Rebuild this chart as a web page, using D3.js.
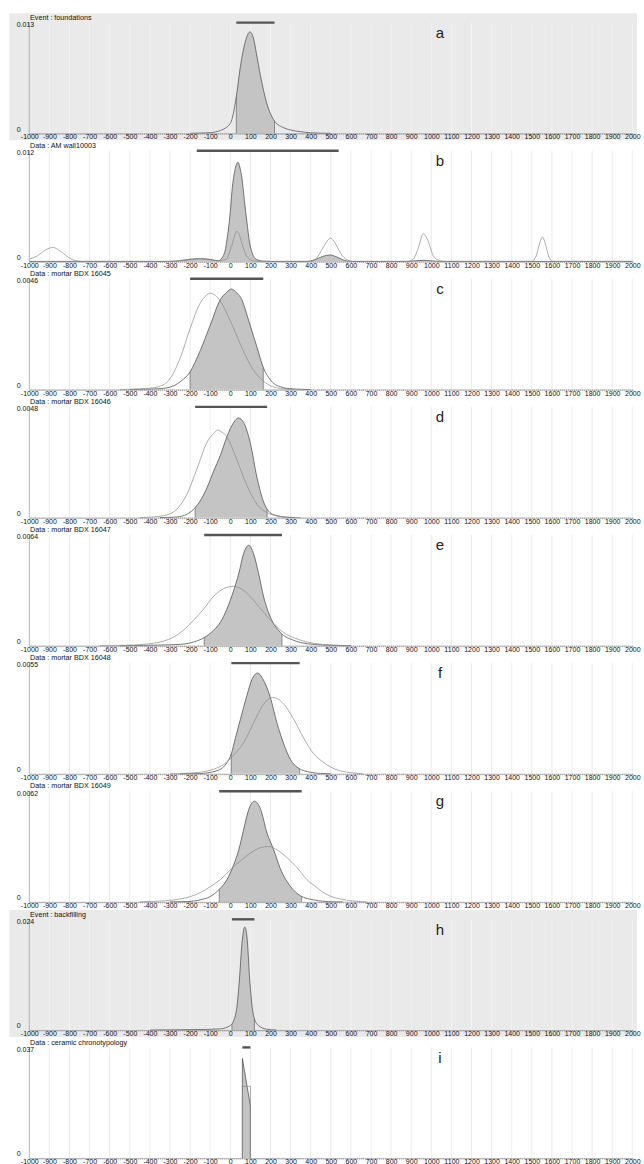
<!DOCTYPE html>
<html>
<head>
<meta charset="utf-8">
<script src="https://cdn.jsdelivr.net/npm/d3@7"></script>
<style>
body { margin: 0; background: #fff; }
svg text { font-family: "Liberation Sans", Arial, sans-serif; }
</style>
</head>
<body>
<svg id="chart" width="644" height="1164"></svg>
<script>
// panels, top to bottom
const panelLetters = ["a", "b", "c", "d", "e", "f", "g", "h", "i"];
const panelTitles = [
    "Event : foundations", "Data : AM wall10003", "Data : mortar BDX 16045",
    "Data : mortar BDX 16046", "Data : mortar BDX 16047", "Data : mortar BDX 16048",
    "Data : mortar BDX 16049", "Event : backfilling", "Data : ceramic chronotypology"
];
const yMaxLabels = ["0.013", "0.012", "0.0046", "0.0048", "0.0064", "0.0055", "0.0062", "0.024", "0.037"];
const eventPanels = ["a", "h"];
const linearPanels = ["i"];
const xTicks = d3.range(-1000, 2001, 100);

// interval bar drawn at the top of each panel
const bars = [[30, 220], [-167, 539], [-200, 164], [-175, 183], [-130, 257], [5, 345], [-55, 355], [8, 120], [60, 100]];
// part of the posterior that is shaded
const shades = [[30, 220], [-1000, 2000], [-200, 164], [-175, 183], [-130, 257], [5, 345], [-55, 355], [8, 120], [60, 100]];

// posterior densities [year, density]
const postA = [[-200,0],[-150,0.000026],[-100,0.000078],[-50,0.000325],[0,0.00117],[30,0.00429],[50,0.0078],[75,0.01079],[98,0.01191],[115,0.01118],[130,0.00936],[150,0.00676],[180,0.00364],[220,0.00143],[260,0.000715],[300,0.00039],[350,0.000182],[400,0.000065],[450,0.000013],[500,0]];
const postB = [[-1000,0],[-300,0],[-260,0.000048],[-200,0.000216],[-150,0.0003],[-100,0.000216],[-60,0.000072],[-30,0.00084],[-17,0.00228],[0,0.0054],[8,0.00756],[25,0.01008],[38,0.01075],[50,0.00996],[58,0.009],[70,0.0066],[83,0.0042],[95,0.00216],[108,0.00096],[133,0.00018],[160,0.000036],[200,0],[380,0],[420,0.00018],[460,0.00054],[495,0.000696],[530,0.00048],[565,0.00012],[600,0],[880,0],[920,0.00006],[960,0.00012],[1000,0.00006],[1040,0],[2000,0]];
const postC = [[-500,0],[-415,0.000014],[-350,0.000037],[-315,0.000069],[-280,0.000161],[-249,0.000322],[-200,0.000736],[-150,0.00161],[-100,0.002668],[-50,0.003726],[-17,0.004048],[5,0.004177],[33,0.004002],[58,0.003726],[75,0.003312],[92,0.002852],[133,0.001748],[166,0.000874],[190,0.000506],[216,0.000253],[250,0.000115],[283,0.000046],[349,0.000009],[400,0]];
const postD = [[-350,0],[-300,0.00001],[-266,0.000029],[-216,0.000144],[-175,0.000432],[-150,0.00072],[-116,0.001296],[-83,0.002016],[-50,0.002688],[-17,0.003504],[17,0.004128],[40,0.00432],[66,0.004128],[100,0.003216],[133,0.001728],[166,0.000672],[183,0.000365],[210,0.000144],[233,0.000072],[280,0.000014],[320,0]];
const postE = [[-550,0],[-450,0.000013],[-349,0.000038],[-249,0.000077],[-183,0.000211],[-133,0.000448],[-83,0.000896],[-50,0.001344],[-17,0.002112],[17,0.0032],[42,0.00416],[66,0.005312],[91,0.005805],[116,0.005312],[141,0.00416],[166,0.002816],[199,0.001664],[249,0.000768],[316,0.000307],[382,0.000115],[459,0.000038],[550,0.000006],[600,0]];
const postF = [[-250,0],[-150,0.000011],[-116,0.000044],[-50,0.00022],[-17,0.00055],[5,0.00099],[25,0.00176],[50,0.002695],[83,0.003905],[107,0.004675],[136,0.005005],[164,0.004675],[199,0.003795],[232,0.00253],[266,0.001485],[299,0.000715],[340,0.000275],[398,0.000077],[450,0.000017],[500,0]];
const postG = [[-300,0],[-216,0.000019],[-150,0.000112],[-100,0.000298],[-55,0.000701],[-17,0.00124],[17,0.002083],[42,0.002914],[66,0.00403],[91,0.005146],[120,0.005642],[150,0.005208],[183,0.003844],[216,0.002914],[249,0.00186],[299,0.000868],[349,0.000341],[415,0.000112],[459,0.000037],[520,0.000006],[560,0]];
const postH = [[-400,0],[-250,0.000048],[-150,0.000096],[-50,0.00024],[0,0.00096],[17,0.00204],[33,0.00504],[46,0.01128],[58,0.01872],[72,0.02232],[83,0.02016],[96,0.01128],[108,0.00528],[120,0.0024],[141,0.00096],[183,0.000144],[230,0]];
const postI = [[60,0],[60,0.0333],[100,0.0174],[100,0]];

// individual (unshaded) densities [year, density]
const likeA = null;
const likeB = [[-1000,0.00024],[-960,0.0006],[-930,0.00108],[-900,0.00144],[-881,0.00151],[-860,0.00132],[-830,0.00084],[-800,0.00036],[-770,0.000096],[-740,0],[-300,0],[-250,0.000096],[-200,0.00024],[-150,0.0003],[-100,0.00018],[-60,0.00006],[-20,0.00024],[0,0.0012],[17,0.0024],[30,0.00324],[40,0.00312],[58,0.00192],[75,0.00084],[95,0.00024],[120,0.000036],[150,0],[400,0],[430,0.00036],[460,0.00144],[490,0.0024],[500,0.00252],[520,0.00204],[550,0.00084],[580,0.00018],[610,0],[880,0],[910,0.00024],[935,0.00144],[960,0.003],[985,0.00216],[1010,0.0006],[1040,0.000096],[1070,0],[1500,0],[1520,0.00048],[1540,0.00204],[1553,0.00264],[1567,0.00192],[1585,0.00048],[1605,0],[2000,0]];
const likeC = [[-550,0],[-449,0.000023],[-400,0.000055],[-349,0.000138],[-299,0.00046],[-249,0.001311],[-200,0.00253],[-150,0.003588],[-120,0.00391],[-97,0.004002],[-75,0.00391],[-50,0.00368],[0,0.002852],[50,0.001886],[100,0.001012],[150,0.00046],[200,0.000156],[266,0.000028],[320,0]];
const likeD = [[-450,0],[-382,0.000029],[-316,0.000115],[-266,0.000365],[-216,0.001008],[-166,0.002112],[-116,0.003264],[-83,0.003648],[-63,0.003792],[-40,0.003696],[-17,0.003504],[33,0.002496],[83,0.001392],[133,0.000576],[183,0.000216],[249,0.000058],[300,0.00001],[350,0]];
const likeE = [[-650,0],[-560,0.000013],[-482,0.000038],[-399,0.000115],[-332,0.000269],[-282,0.000499],[-233,0.000896],[-183,0.001472],[-133,0.002112],[-83,0.002854],[-33,0.003296],[17,0.00343],[66,0.0032],[116,0.002624],[166,0.00192],[216,0.00128],[266,0.000749],[316,0.000461],[382,0.000211],[459,0.000077],[530,0.000026],[600,0]];
const likeF = [[-300,0],[-216,0.000028],[-150,0.000077],[-83,0.000231],[-33,0.000462],[17,0.000935],[66,0.00154],[116,0.00253],[166,0.003465],[212,0.003795],[266,0.003465],[316,0.002695],[366,0.00176],[415,0.00099],[459,0.000605],[500,0.00033],[550,0.000138],[600,0.000055],[660,0]];
const likeG = [[-450,0],[-365,0.000037],[-282,0.000112],[-216,0.000242],[-150,0.000515],[-100,0.000849],[-50,0.00124],[0,0.001798],[50,0.002294],[100,0.002728],[150,0.003038],[191,0.0031],[232,0.002914],[282,0.00248],[332,0.001922],[382,0.00124],[432,0.000794],[459,0.000558],[500,0.00031],[550,0.000155],[600,0.000062],[680,0]];
const likeH = null;
const likeI = [[60,0],[60,0.024],[100,0.024],[100,0]];

const posteriors = [postA, postB, postC, postD, postE, postF, postG, postH, postI];
const likelihoods = [likeA, likeB, likeC, likeD, likeE, likeF, likeG, likeH, likeI];

const svg = d3.select("#chart");
const x = d3.scaleLinear().domain([-1000, 2000]).range([29.3, 632.3]);
const firstTitle = 17.3;
const panelStep = 128.1;

// y of a drawn path at screen position px (binary search on the path)
function pathYAt(pathNode, px) {
    const total = pathNode.getTotalLength();
    let lo = 0, hi = total;
    for (let k = 0; k < 40; k++) {
        const mid = (lo + hi) / 2;
        if (pathNode.getPointAtLength(mid).x < px) lo = mid; else hi = mid;
    }
    return pathNode.getPointAtLength(hi).y;
}

panelLetters.forEach((letter, i) => {
    const tc = firstTitle + i * panelStep;
    const top = tc + 5.3;
    const base = tc + 116;
    const isEvent = eventPanels.includes(letter);
    const y = d3.scaleLinear().domain([0, +yMaxLabels[i]]).range([base, top]);
    const curve = linearPanels.includes(letter) ? d3.curveLinear : d3.curveMonotoneX;
    const g = svg.append("g").attr("class", "panel-" + letter);

    if (isEvent) {
        g.append("rect")
            .attr("x", 9.3).attr("y", tc - 4)
            .attr("width", 627.7).attr("height", 127)
            .attr("fill", "#eaeaea");
    }

    // vertical grid
    g.append("g").selectAll("line")
        .data(xTicks.slice(1))
        .join("line")
        .attr("x1", d => x(d)).attr("x2", d => x(d))
        .attr("y1", top).attr("y2", base)
        .attr("stroke", isEvent ? "#f6f6f6" : "#e2e2e2")
        .attr("stroke-width", 0.7);

    // shaded part of the posterior
    const clipId = "clip-" + letter;
    g.append("clipPath").attr("id", clipId)
        .append("rect")
        .attr("x", x(shades[i][0])).attr("y", top - 5)
        .attr("width", x(shades[i][1]) - x(shades[i][0]))
        .attr("height", base - top + 5);

    const area = d3.area()
        .x(d => x(d[0])).y0(base).y1(d => y(d[1]))
        .curve(curve);
    const line = d3.line()
        .x(d => x(d[0])).y(d => y(d[1]))
        .curve(curve);

    g.append("path")
        .datum(posteriors[i])
        .attr("clip-path", `url(#${clipId})`)
        .attr("d", area)
        .attr("fill", "#c4c4c4");

    const post = g.append("path")
        .datum(posteriors[i])
        .attr("d", line)
        .attr("fill", "none")
        .attr("stroke", "#555")
        .attr("stroke-width", 0.8);

    // edges of the shaded interval
    if (letter !== "b" && letter !== "i") {
        shades[i].forEach(v => {
            g.append("line")
                .attr("x1", x(v)).attr("x2", x(v))
                .attr("y1", base).attr("y2", pathYAt(post.node(), x(v)))
                .attr("stroke", "#666").attr("stroke-width", 0.7);
        });
    }

    if (likelihoods[i]) {
        g.append("path")
            .datum(likelihoods[i])
            .attr("d", line)
            .attr("fill", "none")
            .attr("stroke", "#8a8a8a")
            .attr("stroke-width", 0.7);
    }

    // y axis
    g.append("line")
        .attr("x1", x(-1000)).attr("x2", x(-1000))
        .attr("y1", top).attr("y2", base)
        .attr("stroke", "#999").attr("stroke-width", 0.7);

    // x axis: dotted minor ticks then labels
    const minor = g.append("g")
        .attr("transform", `translate(0,${base})`)
        .call(d3.axisBottom(x).tickValues(d3.range(-1000, 2001, 10)).tickSize(1.6).tickFormat(""));
    minor.select(".domain").attr("stroke", "#999").attr("stroke-width", 0.6);
    minor.selectAll(".tick line").attr("stroke", "#777").attr("stroke-width", 0.5);

    const labels = g.append("g")
        .attr("transform", `translate(0,${base})`)
        .call(d3.axisBottom(x).tickValues(xTicks).tickSize(0).tickPadding(1.2).tickFormat(d => String(d)));
    labels.select(".domain").remove();
    labels.selectAll("text")
        .attr("font-size", 7)
        .attr("font-family", "Liberation Sans, Arial, sans-serif")
        .attr("fill", "#111");

    // interval bar
    g.append("line")
        .attr("x1", x(bars[i][0])).attr("x2", x(bars[i][1]))
        .attr("y1", top).attr("y2", top)
        .attr("stroke", "#555").attr("stroke-width", 2.4);

    // texts
    g.append("text")
        .attr("x", 30).attr("y", tc + 2.5)
        .attr("font-size", 7.2).attr("fill", "#111")
        .text(panelTitles[i]);
    g.append("text")
        .attr("x", 16.7).attr("y", tc + 9.6)
        .attr("font-size", 7).attr("fill", "#111")
        .text(yMaxLabels[i]);
    g.append("text")
        .attr("x", 16.7).attr("y", base - 1.8)
        .attr("font-size", 7).attr("fill", "#111")
        .text("0");
    g.append("text")
        .attr("x", 440).attr("y", tc + 20.5)
        .attr("text-anchor", "middle")
        .attr("font-family", "Open Sans, sans-serif")
        .attr("font-size", 15).attr("fill", "#222")
        .text(letter);
});
</script>
</body>
</html>
